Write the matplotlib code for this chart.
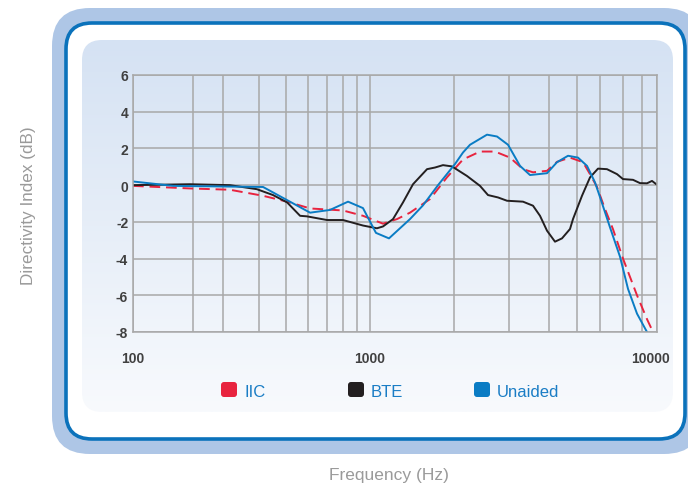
#!/usr/bin/env python3

import numpy as np
import matplotlib
matplotlib.use('Agg')
import matplotlib.pyplot as plt
from matplotlib.patches import FancyBboxPatch
from matplotlib.colors import LinearSegmentedColormap
from matplotlib.transforms import ScaledTranslation

plt.rcParams['font.family'] = ['Liberation Sans', 'DejaVu Sans']
plt.rcParams['axes.unicode_minus'] = False

# frequency (Hz) / directivity index (dB)
iic_hz = [100, 195, 319, 415, 505, 611, 800, 946, 1155, 1321, 1476, 1714, 1917,
          2164, 2473, 2745, 3025, 3350, 3600, 3950, 4286, 4750, 5261, 5565,
          5870, 6217, 6565, 7000, 7737, 8667, 9467]
iic_db = [-0.04, -0.18, -0.25, -0.58, -0.9, -1.27, -1.38, -1.67, -2.1, -1.85, -1.5,
          -0.76, 0.43, 1.4, 1.83, 1.83, 1.5, 0.87, 0.7, 0.78, 1.27, 1.5, 1.25, 0.6,
          -0.1, -1.3, -2.4, -4.0, -6.0, -7.3, -8.0]

bte_hz = [100, 195, 319, 394, 452, 505, 564, 595, 700, 800, 946, 1083, 1155, 1274,
          1393, 1512, 1679, 1774, 1869, 1976, 2236, 2473, 2618, 2800, 2964, 3350,
          3600, 3775, 3950, 4214, 4464, 4750, 4857, 5217, 5565, 5913, 6304, 6739,
          7000, 7526, 7895, 8667, 9333, 10000]
bte_db = [0.0, 0.05, 0.0, -0.22, -0.54, -0.94, -1.67, -1.7, -1.9, -1.9, -2.2, -2.35,
          -2.25, -1.85, -0.94, 0.05, 0.87, 0.96, 1.09, 1.02, 0.5, -0.04, -0.54,
          -0.67, -0.85, -0.9, -1.12, -1.67, -2.48, -3.08, -2.9, -2.39, -1.85, -0.58,
          0.42, 0.9, 0.87, 0.6, 0.33, 0.29, 0.11, 0.1, 0.23, 0.02]

unaided_hz = [100, 167, 415, 611, 719, 836, 946, 1071, 1226, 1476, 1631, 1810, 2018,
              2164, 2291, 2600, 2782, 2982, 3275, 3525, 3950, 4286, 4679, 5043,
              5435, 5783, 6000, 6435, 6870, 7263, 7737, 7895, 8667]
unaided_db = [0.2, -0.04, -0.1, -1.5, -1.35, -0.9, -1.25, -2.6, -2.9, -1.85, -1.1,
              0.0, 1.15, 1.78, 2.2, 2.75, 2.65, 2.2, 1.05, 0.55, 0.65, 1.25, 1.6,
              1.5, 1.05, 0.15, -0.65, -2.3, -3.9, -5.65, -7.0, -7.3, -8.0]

series = ['IIC', 'BTE', 'Unaided']
colors = ['#e8243f', '#231f20', '#0a7cc4']

# the printed frequency axis is not a true log scale: gridline spacing
grid_hz = [100, 200, 300, 400, 500, 600, 700, 800, 900, 1000,
           2000, 3000, 4000, 5000, 6000, 7000, 8000, 10000]
grid_pos = [0, 60, 90, 126, 153, 175, 194, 210, 224, 237,
            321, 376, 416, 444, 467, 490, 509, 524]
tick_labels = {100: '100', 1000: '1000', 10000: '10000'}


def fwd(f):
    return np.interp(f, grid_hz, grid_pos)


def inv(p):
    return np.interp(p, grid_pos, grid_hz)


def rbox(ax, x0, y0, x1, y1, r, **kw):
    p = FancyBboxPatch((x0, y0), x1 - x0, y1 - y0,
                       boxstyle='round,pad=0,rounding_size={}'.format(r), **kw)
    ax.add_patch(p)
    return p


fig = plt.figure(figsize=(6.88, 4.85), dpi=100)

# frame, drawn in pixel units
bg = fig.add_axes([0, 0, 1, 1], zorder=0)
bg.set_xlim(0, 688)
bg.set_ylim(485, 0)
bg.axis('off')
rbox(bg, 52, 9, 702, 455, 38, fc='#aec6e6', ec='none', zorder=1)
rbox(bg, 66, 24, 685, 440, 26, fc='white', ec='#0b72bb', lw=2.6, zorder=2)
panel = rbox(bg, 82, 41, 673, 413, 20, fc='none', ec='none', zorder=3)
cmap = LinearSegmentedColormap.from_list('panel', ['#d5e2f3', '#f8fafd'])
grad = bg.imshow(np.linspace(0, 1, 256).reshape(-1, 1), cmap=cmap, aspect='auto',
                 extent=[82, 673, 413, 41], interpolation='bilinear', zorder=3)
grad.set_clip_path(panel)
bg.set_xlim(0, 688)
bg.set_ylim(485, 0)

ax = fig.add_axes([133 / 688, 152 / 485, 524 / 688, 257 / 485], zorder=1)
ax.patch.set_alpha(0)
ax.set_xscale('function', functions=(fwd, inv))
ax.set_xlim(100, 10000)
ax.set_ylim(-8, 6)

ax.plot(iic_hz, iic_db, color=colors[0], lw=1.4, dashes=(5.5, 3))
ax.plot(bte_hz, bte_db, color=colors[1], lw=1.4)
ax.plot(unaided_hz, unaided_db, color=colors[2], lw=1.4)

ax.set_xticks(grid_hz)
ax.set_xticklabels([tick_labels.get(f, '') for f in grid_hz])
ax.set_xticks([], minor=True)
ax.set_yticks(range(-8, 7, 2))
ax.grid(True, color='#a8a8a8', lw=1.1)
ax.set_axisbelow(True)
for s in ax.spines.values():
    s.set_color('#a8a8a8')
    s.set_linewidth(1.1)
ax.tick_params(length=0, labelsize=10, labelcolor='#404040')
for lbl in ax.get_xticklabels() + ax.get_yticklabels():
    lbl.set_fontweight('bold')
ax.tick_params(axis='x', pad=13.5)
ax.tick_params(axis='y', pad=3.5)
last = ax.get_xticklabels()[-1]
last.set_transform(last.get_transform() + ScaledTranslation(-6 / 100, 0, fig.dpi_scale_trans))

fig.text(28 / 688, 1 - 206 / 485, 'Directivity Index (dB)', rotation=90,
         ha='center', va='center', fontsize=12.3, color='#9a9a9a')
fig.text(389 / 688, 1 - 480 / 485, 'Frequency (Hz)', ha='center', va='baseline',
         fontsize=12.5, color='#9a9a9a')

# legend keys
key_x = [221, 348, 474]
for name, c, x in zip(series, colors, key_x):
    rbox(bg, x, 383, x + 16, 398, 3, fc=c, ec='none', zorder=4)
    bg.text(x + 23, 392.5, name, ha='left', va='center', fontsize=12,
            color='#1a7dc5', zorder=5)

plt.savefig('out.png', dpi=100)
